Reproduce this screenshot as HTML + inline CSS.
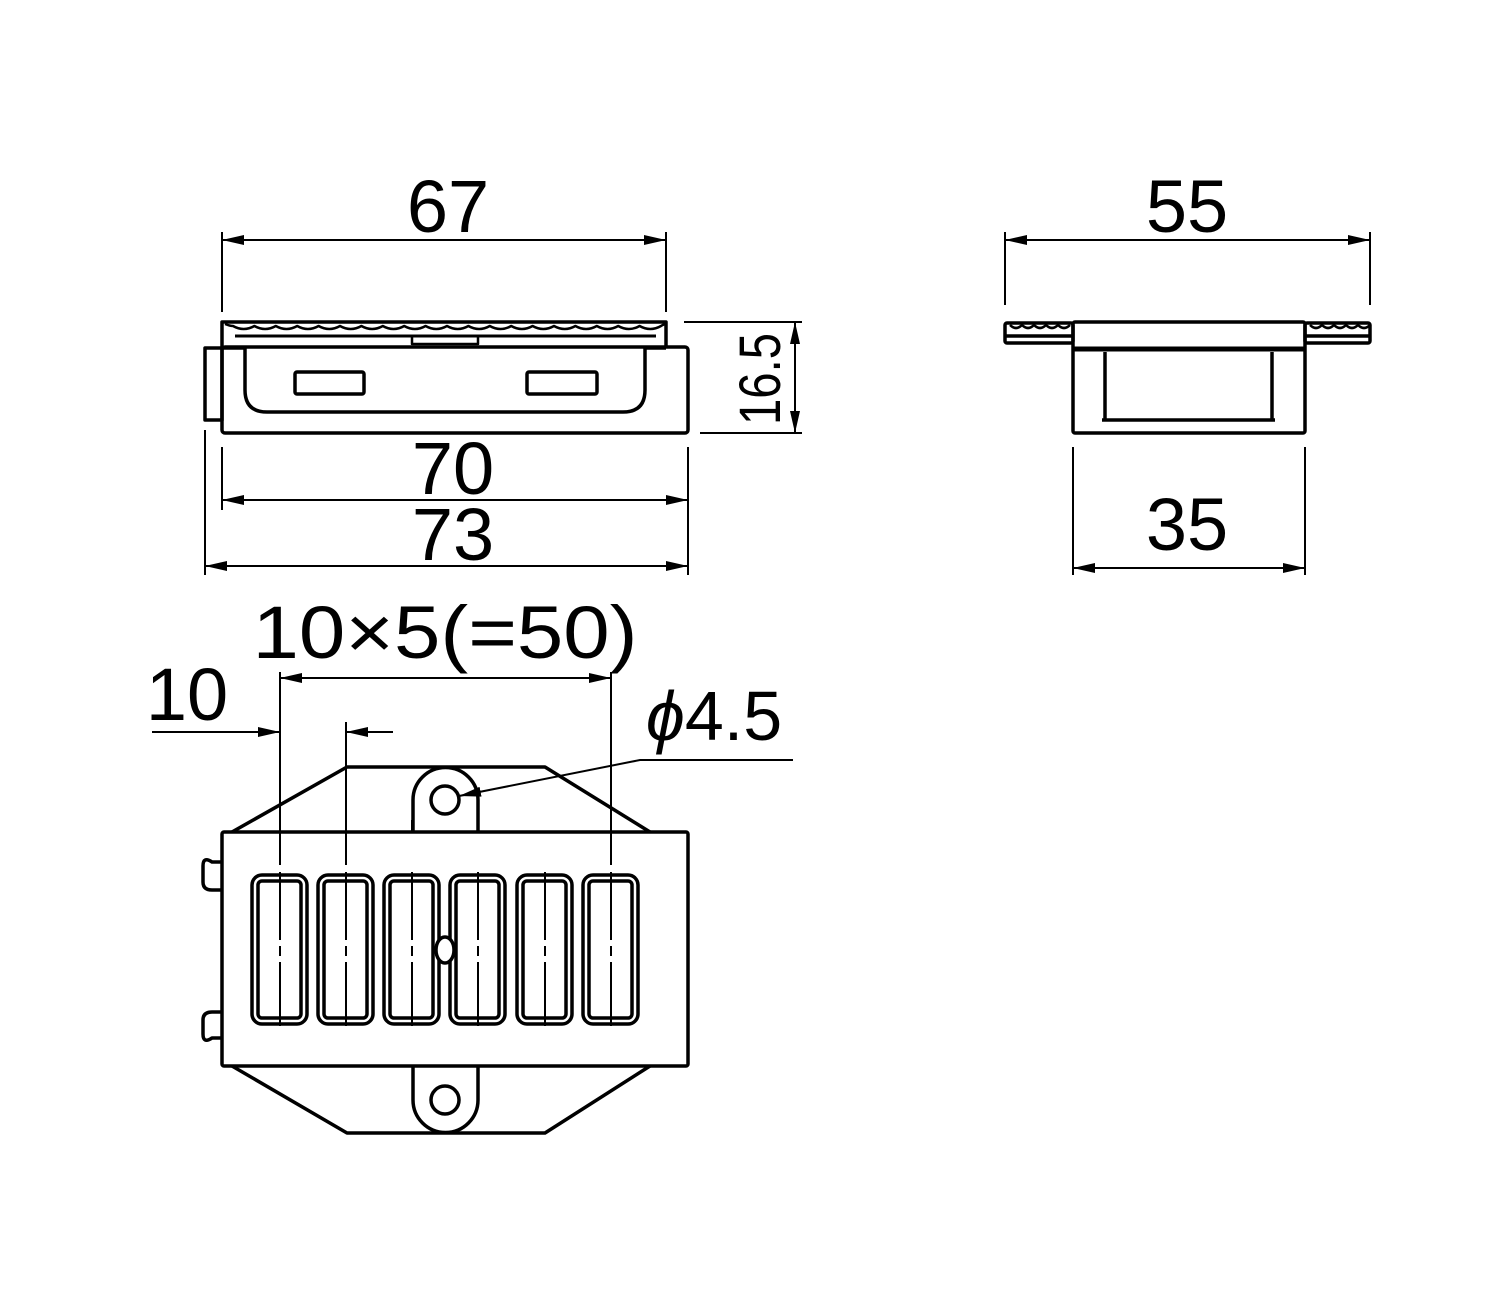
<!DOCTYPE html>
<html><head><style>html,body{margin:0;padding:0;background:#fff}svg{display:block}</style></head><body>
<svg width="1505" height="1300" viewBox="0 0 1505 1300" xmlns="http://www.w3.org/2000/svg" font-family="Liberation Sans, sans-serif">
<defs>
<marker id="a" viewBox="0 0 22 10" refX="22" refY="5" markerWidth="22" markerHeight="10" markerUnits="userSpaceOnUse" orient="auto-start-reverse"><path d="M0,0L22,5L0,10z" fill="#000"/></marker>
</defs>
<g fill="none" stroke="#000" stroke-width="2">
<line x1="222" y1="232" x2="222" y2="312"/><line x1="666" y1="232" x2="666" y2="312"/>
<line x1="222" y1="240" x2="666" y2="240" marker-start="url(#a)" marker-end="url(#a)"/>
<line x1="222" y1="447" x2="222" y2="510"/><line x1="688" y1="447" x2="688" y2="575"/>
<line x1="222" y1="500" x2="688" y2="500" marker-start="url(#a)" marker-end="url(#a)"/>
<line x1="205" y1="430" x2="205" y2="575"/>
<line x1="205" y1="566" x2="688" y2="566" marker-start="url(#a)" marker-end="url(#a)"/>
<line x1="684" y1="322" x2="802" y2="322"/><line x1="700" y1="433" x2="802" y2="433"/>
<line x1="795" y1="322" x2="795" y2="433" marker-start="url(#a)" marker-end="url(#a)"/>
<line x1="1005" y1="232" x2="1005" y2="305"/><line x1="1370" y1="232" x2="1370" y2="305"/>
<line x1="1005" y1="240" x2="1370" y2="240" marker-start="url(#a)" marker-end="url(#a)"/>
<line x1="1073" y1="447" x2="1073" y2="575"/><line x1="1305" y1="447" x2="1305" y2="575"/>
<line x1="1073" y1="568" x2="1305" y2="568" marker-start="url(#a)" marker-end="url(#a)"/>
</g>
<g fill="none" stroke="#000" stroke-width="3.5" stroke-linejoin="round">
<rect x="222" y="347" width="466" height="86" rx="3"/>
<path d="M222,347V322H666V347"/>
<path d="M225,324 q5,2 8,2 q10.7,6 21.4,0 q10.7,6 21.4,0 q10.7,6 21.4,0 q10.7,6 21.4,0 q10.7,6 21.4,0 q10.7,6 21.4,0 q10.7,6 21.4,0 q10.7,6 21.4,0 q10.7,6 21.4,0 q10.7,6 21.4,0 q10.7,6 21.4,0 q10.7,6 21.4,0 q10.7,6 21.4,0 q10.7,6 21.4,0 q10.7,6 21.4,0 q10.7,6 21.4,0 q10.7,6 21.4,0 q10.7,6 21.4,0 q10.7,6 21.4,0 q10.7,6 21.4,0 q3,-2 5,-2" stroke-width="2.5"/>
<line x1="235" y1="336" x2="656" y2="336" stroke-width="3"/>
<rect x="412" y="336" width="66" height="8" stroke-width="2.5"/>
<path d="M222,348H245V390Q245,412 267,412H623Q645,412 645,390V348H666"/>
<rect x="205" y="348" width="17" height="72"/>
<rect x="295" y="372" width="69" height="22" rx="2"/>
<rect x="527" y="372" width="70" height="22" rx="2"/>
<rect x="1073" y="322" width="232" height="111" rx="2"/>
<line x1="1073" y1="349" x2="1305" y2="349" stroke-width="5"/>
<path d="M1105,352V420M1272,352V420M1102,420H1275"/>
<rect x="1005" y="323" width="68" height="20" rx="2"/>
<line x1="1005" y1="336" x2="1073" y2="336"/>
<rect x="1305" y="323" width="65" height="20" rx="2"/>
<line x1="1305" y1="336" x2="1370" y2="336"/>
<path d="M1010,325 q6,6 12,0 q6,6 12,0 q6,6 12,0 q6,6 12,0 q6,6 12,0 M1310,325 q6,6 12,0 q6,6 12,0 q6,6 12,0 q6,6 12,0 q6,6 12,0" stroke-width="2.5"/>
<rect x="222" y="832" width="466" height="234" rx="2"/>
<path d="M232,832L347,767H545L650,832"/>
<path d="M232,1066L347,1133H545L650,1066"/>
<path d="M413,832V800A32,32 0 0 1 478,800V832"/>
<path d="M413,1066V1100A32,32 0 0 0 478,1100V1066"/>
<circle cx="445" cy="800" r="14"/>
<circle cx="445" cy="1100" r="14"/>
<path d="M222,862H212Q203,856 203,866V882Q203,890 212,890H222"/>
<path d="M222,1012H212Q203,1012 203,1020V1034Q203,1044 212,1038H222"/>
<g id="s"><rect x="252" y="875" width="55" height="149" rx="10"/><rect x="258" y="881" width="43" height="137" rx="4"/></g>
<use href="#s" x="66"/><use href="#s" x="132"/><use href="#s" x="198"/><use href="#s" x="265"/><use href="#s" x="331"/>
<ellipse cx="445" cy="950" rx="9" ry="13" fill="#fff"/>
</g>
<g stroke="#000" stroke-width="2" fill="none">
<line x1="280" y1="672" x2="280" y2="865"/><line x1="346" y1="722" x2="346" y2="865"/><line x1="611" y1="672" x2="611" y2="865"/>
<g stroke-dasharray="68,6,10,6,200">
<line x1="280" y1="872" x2="280" y2="1026"/><line x1="346" y1="872" x2="346" y2="1026"/><line x1="412" y1="872" x2="412" y2="1026"/>
<line x1="478" y1="872" x2="478" y2="1026"/><line x1="545" y1="872" x2="545" y2="1026"/><line x1="611" y1="872" x2="611" y2="1026"/>
</g>
<line x1="412" y1="820" x2="412" y2="832"/><line x1="478" y1="820" x2="478" y2="832"/>
<line x1="280" y1="678" x2="611" y2="678" marker-start="url(#a)" marker-end="url(#a)"/>
<line x1="152" y1="732" x2="280" y2="732" marker-end="url(#a)"/>
<line x1="393" y1="732" x2="346" y2="732" marker-end="url(#a)"/>
<path d="M793,760H640L459,796" marker-end="url(#a)"/>
</g>
<g font-size="74" fill="#000" text-anchor="middle">
<text x="448" y="232">67</text>
<text x="1187" y="232">55</text>
<text x="453" y="494">70</text>
<text x="453" y="560">73</text>
<text x="1187" y="550">35</text>
<text transform="translate(780,379) rotate(-90)" font-size="58" textLength="92" lengthAdjust="spacingAndGlyphs">16.5</text>
<text x="445" y="658" textLength="385" lengthAdjust="spacingAndGlyphs">10×5(=50)</text>
<text x="187" y="720">10</text>
<text x="714" y="740" font-size="70"><tspan font-style="italic">ϕ</tspan>4.5</text>
</g>
</svg>
</body></html>
